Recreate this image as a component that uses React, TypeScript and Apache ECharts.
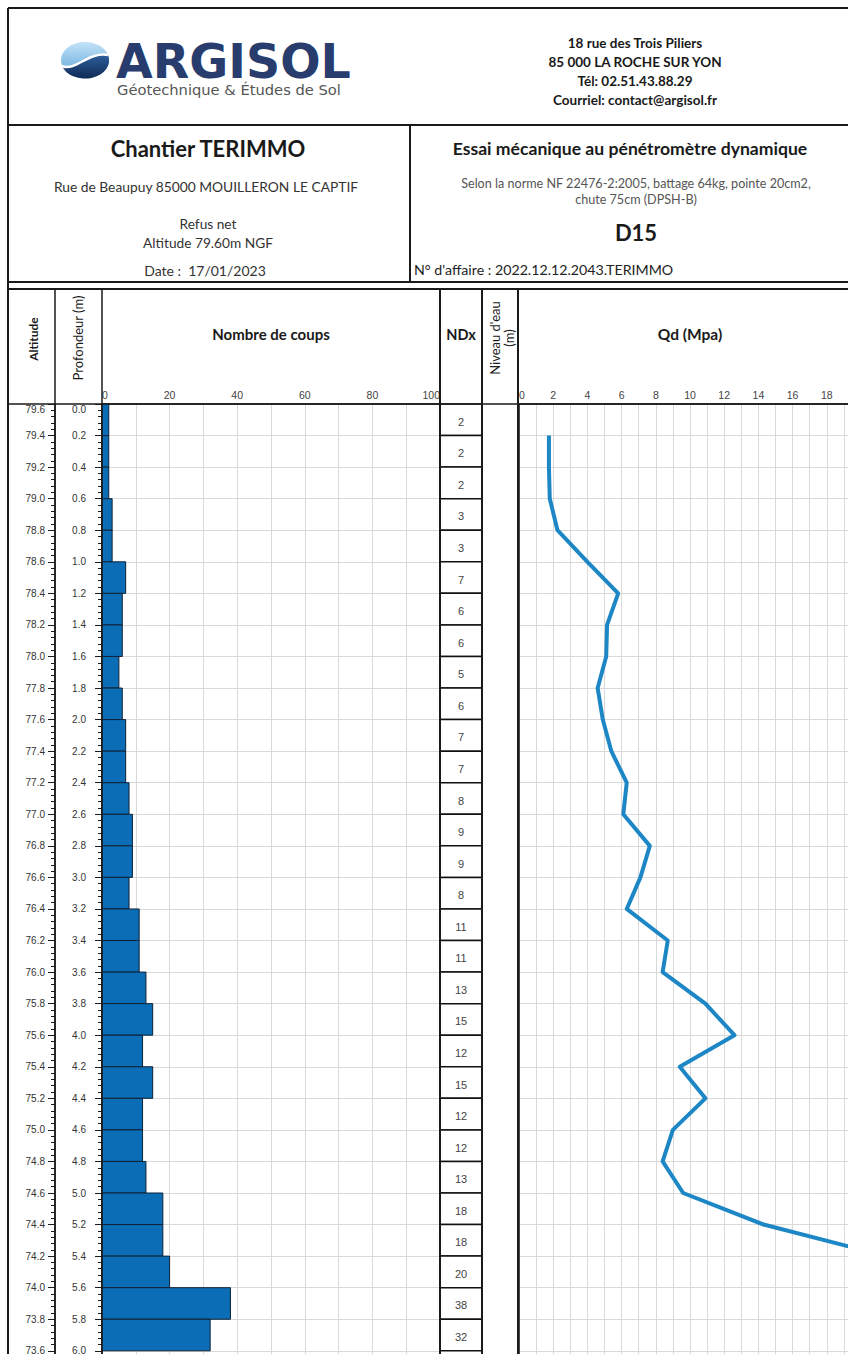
import React, { useEffect, useRef } from "react";
import * as echarts from "echarts";

// ---------- data ----------
const LAYER_TOP = [0, 0.2, 0.4, 0.6, 0.8, 1.0, 1.2, 1.4, 1.6, 1.8, 2.0, 2.2, 2.4, 2.6, 2.8, 3.0, 3.2, 3.4, 3.6, 3.8, 4.0, 4.2, 4.4, 4.6, 4.8, 5.0, 5.2, 5.4, 5.6, 5.8];
const LAYER_BOTTOM = [0.2, 0.4, 0.6, 0.8, 1.0, 1.2, 1.4, 1.6, 1.8, 2.0, 2.2, 2.4, 2.6, 2.8, 3.0, 3.2, 3.4, 3.6, 3.8, 4.0, 4.2, 4.4, 4.6, 4.8, 5.0, 5.2, 5.4, 5.6, 5.8, 6.0];
const NDX = [2, 2, 2, 3, 3, 7, 6, 6, 5, 6, 7, 7, 8, 9, 9, 8, 11, 11, 13, 15, 12, 15, 12, 12, 13, 18, 18, 20, 38, 32];
const QD_DEPTH = [0.2, 0.4, 0.6, 0.8, 1.0, 1.2, 1.4, 1.6, 1.8, 2.0, 2.2, 2.4, 2.6, 2.8, 3.0, 3.2, 3.4, 3.6, 3.8, 4.0, 4.2, 4.4, 4.6, 4.8, 5.0, 5.2, 5.4];
const QD = [1.75, 1.75, 1.8, 2.25, 4.0, 5.8, 5.15, 5.1, 4.6, 4.9, 5.4, 6.3, 6.1, 7.65, 7.1, 6.3, 8.7, 8.4, 10.9, 12.6, 9.4, 10.9, 9.0, 8.4, 9.6, 14.3, 21.5];
const SURFACE_ALT = 79.6;
const DEPTH_MAX = 6.4;
const COUPS_MAX = 100;
const QD_MAX = 20;

// ---------- layout ----------
const W = 848;
const HH = 1354;
const TOP = 404;
const PX_PER_M = 157.8;
const GH = DEPTH_MAX * PX_PER_M;
const LINE = "#1a1a1a";
const GRIDC = "#d9d9d9";
const HEAD_FONT = "Lato, 'Noto Sans', sans-serif";
const TICK_FONT = "'Liberation Sans', Arial, sans-serif";

echarts.graphic.registerShape(
  "logoDark",
  echarts.graphic.extendPath("M1,24 C14,30 28,9 47,13 A24,18 0 0 1 1,24 Z", {})
);
echarts.graphic.registerShape(
  "logoSwoosh",
  echarts.graphic.extendPath("M1,24 C14,30 28,9 47,13", {})
);

function ln(x1: number, y1: number, x2: number, y2: number, w = 2, c = LINE) {
  return { type: "line", silent: true, z: 50, shape: { x1, y1, x2, y2 }, style: { stroke: c, lineWidth: w } };
}
function tx(x: number, y: number, text: string, size: number, opts: any = {}) {
  return {
    type: "text",
    silent: true,
    z: 60,
    x,
    y,
    rotation: opts.rotation || 0,
    style: {
      text,
      fill: opts.color || "#1a1a1a",
      fontSize: size,
      fontWeight: opts.bold ? "bold" : "normal",
      fontFamily: opts.font || HEAD_FONT,
      align: opts.align || "center",
      verticalAlign: "middle",
      lineHeight: opts.lineHeight || undefined,
    },
  };
}

export default function App() {
  const ref = useRef<HTMLDivElement>(null);
  useEffect(() => {
    document.body.style.overflow = "hidden";
    const chart = echarts.init(ref.current!, null, { renderer: "svg" });
    const layers = NDX.map((v, i) => [LAYER_TOP[i], LAYER_BOTTOM[i], v]);
    const qdData = QD.map((v, i) => [v, QD_DEPTH[i]]);

    const depthAxisBase = {
      type: "value",
      inverse: true,
      min: 0,
      max: DEPTH_MAX,
      interval: 0.2,
    };

    const graphics: any[] = [
      // frame
      ln(8, 8, W, 8),
      ln(8, 8, 8, HH),
      ln(8, 125, W, 125),
      ln(410, 125, 410, 282),
      ln(8, 282, W, 282),
      ln(8, 289, W, 289),
      ln(8, TOP, W, TOP, 1.5),
      ln(55, 289, 55, HH, 1.5),
      ln(102, 289, 102, HH, 1.5),
      ln(440, 289, 440, HH, 2),
      ln(482, 289, 482, HH, 2),
      ln(518, 289, 518, HH, 2),
      // logo
      {
        type: "ellipse",
        silent: true,
        z: 40,
        shape: { cx: 85, cy: 60, rx: 24, ry: 18 },
        style: {
          fill: new echarts.graphic.LinearGradient(0, 0, 0, 1, [
            { offset: 0, color: "#c4e3f7" },
            { offset: 1, color: "#5aa3d9" },
          ]),
        },
      },
      {
        type: "logoDark",
        silent: true,
        z: 41,
        x: 61,
        y: 42,
        style: {
          fill: new echarts.graphic.LinearGradient(0, 0, 0, 1, [
            { offset: 0, color: "#2f5f9c" },
            { offset: 1, color: "#102a55" },
          ]),
        },
      },
      {
        type: "logoSwoosh",
        silent: true,
        z: 42,
        x: 61,
        y: 42,
        style: { fill: null, stroke: "#ffffff", lineWidth: 2.5 },
      },
      tx(116, 61, "ARGISOL", 47.5, { bold: true, color: "#283c6e", align: "left", font: "'DejaVu Sans', sans-serif", lineHeight: 32 }),
      tx(117, 89, "Géotechnique & Études de Sol", 14.7, { color: "#555", align: "left", font: "'DejaVu Sans', sans-serif", lineHeight: 12 }),
      // address
      tx(635, 43, "18 rue des Trois Piliers", 13.5, { bold: true }),
      tx(635, 62, "85 000 LA ROCHE SUR YON", 13.5, { bold: true }),
      tx(635, 81, "Tél: 02.51.43.88.29", 13.5, { bold: true }),
      tx(635, 100, "Courriel: contact@argisol.fr", 13.5, { bold: true }),
      // box 2 left
      tx(208, 148, "Chantier TERIMMO", 22, { bold: true }),
      tx(206, 186, "Rue de Beaupuy 85000 MOUILLERON LE CAPTIF", 13.8, { color: "#333" }),
      tx(208, 223, "Refus net", 13.7, { color: "#333", lineHeight: 16 }),
      tx(208, 242, "Altitude 79.60m NGF", 13.7, { color: "#333", lineHeight: 16 }),
      tx(205, 270, "Date :  17/01/2023", 14, { color: "#333" }),
      // box 2 right
      tx(630, 148, "Essai mécanique au pénétromètre dynamique", 17.6, { bold: true }),
      tx(636, 183, "Selon la norme NF 22476-2:2005, battage 64kg, pointe 20cm2,", 12.6, { color: "#555", lineHeight: 15 }),
      tx(636, 199, "chute 75cm (DPSH-B)", 12.6, { color: "#555", lineHeight: 15 }),
      tx(636, 232, "D15", 22, { bold: true }),
      tx(414, 269, "N° d'affaire : 2022.12.12.2043.TERIMMO", 14.2, { color: "#222", align: "left" }),
      // chart header
      tx(33, 339, "Altitude", 12, { bold: true, rotation: Math.PI / 2 }),
      tx(78, 338, "Profondeur (m)", 13, { rotation: Math.PI / 2 }),
      tx(271, 334, "Nombre de coups", 15, { bold: true }),
      tx(461, 334, "NDx", 14.5, { bold: true }),
      tx(495, 338, "Niveau d'eau", 13, { rotation: Math.PI / 2, lineHeight: 13 }),
      tx(509, 338, "(m)", 13, { rotation: Math.PI / 2, lineHeight: 13 }),
      tx(690, 334, "Qd (Mpa)", 15.5, { bold: true }),
    ];

    const xLabel = { fontSize: 10.5, color: "#444", margin: 4, fontFamily: TICK_FONT };
    const gridBase = { outerBoundsMode: "none", containLabel: false };

    chart.setOption({
      animation: false,
      backgroundColor: "#ffffff",
      grid: [
        { ...gridBase, left: 102, top: TOP, width: 338, height: GH },
        { ...gridBase, left: 440, top: TOP, width: 42, height: GH },
        { ...gridBase, left: 519, top: TOP, width: 342, height: GH },
      ],
      xAxis: [
        {
          gridIndex: 0,
          type: "value",
          position: "top",
          min: 0,
          max: COUPS_MAX,
          interval: 20,
          axisLine: { show: true, lineStyle: { color: LINE, width: 1.5 } },
          axisTick: { show: false },
          axisLabel: { ...xLabel, alignMinLabel: "left", alignMaxLabel: "right" },
          splitLine: { show: true, lineStyle: { color: GRIDC } },
          minorTick: { show: false, splitNumber: 2 },
          minorSplitLine: { show: true, lineStyle: { color: GRIDC } },
        },
        { gridIndex: 1, type: "value", min: 0, max: 1, show: false },
        {
          gridIndex: 2,
          type: "value",
          position: "top",
          min: 0,
          max: QD_MAX,
          interval: 2,
          axisLine: { show: true, lineStyle: { color: LINE, width: 1.5 } },
          axisTick: { show: false },
          axisLabel: { ...xLabel, alignMinLabel: "left" },
          splitLine: { show: true, lineStyle: { color: GRIDC } },
          minorTick: { show: false, splitNumber: 2 },
          minorSplitLine: { show: true, lineStyle: { color: GRIDC } },
        },
      ],
      yAxis: [
        {
          ...depthAxisBase,
          gridIndex: 0,
          position: "left",
          axisLine: { show: true, lineStyle: { color: LINE, width: 1.5 } },
          axisTick: { show: true, length: 7, lineStyle: { color: LINE } },
          minorTick: { show: true, splitNumber: 5, length: 4, lineStyle: { color: LINE } },
          axisLabel: {
            formatter: (v: number) => v.toFixed(1),
            margin: 16,
            fontSize: 10,
            color: "#333",
            fontFamily: TICK_FONT,
            verticalAlignMinLabel: "top",
          },
          splitLine: { show: true, lineStyle: { color: GRIDC } },
        },
        {
          gridIndex: 0,
          type: "value",
          position: "left",
          offset: 47,
          min: +(SURFACE_ALT - DEPTH_MAX).toFixed(1),
          max: SURFACE_ALT,
          interval: 0.2,
          axisLine: { show: true, lineStyle: { color: LINE, width: 1.5 } },
          axisTick: { show: true, length: 7, lineStyle: { color: LINE } },
          minorTick: { show: true, splitNumber: 5, length: 4, lineStyle: { color: LINE } },
          axisLabel: {
            formatter: (v: number) => v.toFixed(1),
            margin: 10,
            fontSize: 10,
            color: "#333",
            fontFamily: TICK_FONT,
            verticalAlignMaxLabel: "top",
          },
          splitLine: { show: false },
        },
        { ...depthAxisBase, gridIndex: 1, show: false },
        {
          ...depthAxisBase,
          gridIndex: 2,
          axisLine: { show: true, lineStyle: { color: LINE, width: 1.5 } },
          axisTick: { show: false },
          axisLabel: { show: false },
          splitLine: { show: true, lineStyle: { color: GRIDC } },
        },
      ],
      graphic: graphics,
      series: [
        {
          type: "custom",
          xAxisIndex: 0,
          yAxisIndex: 0,
          data: layers,
          encode: { x: 2, y: [0, 1] },
          renderItem: (_p: any, api: any) => {
            const a = api.coord([0, api.value(0)]);
            const b = api.coord([api.value(2), api.value(1)]);
            return {
              type: "rect",
              shape: { x: a[0], y: a[1], width: b[0] - a[0], height: b[1] - a[1] },
              style: { fill: "#0b6db5", stroke: "#0f2236", lineWidth: 1 },
            };
          },
        },
        {
          type: "custom",
          xAxisIndex: 1,
          yAxisIndex: 2,
          data: layers,
          encode: { y: [0, 1] },
          renderItem: (_p: any, api: any) => {
            const a = api.coord([0, api.value(0)]);
            const b = api.coord([1, api.value(1)]);
            return {
              type: "group",
              children: [
                {
                  type: "rect",
                  shape: { x: a[0], y: a[1], width: b[0] - a[0], height: b[1] - a[1] },
                  style: { fill: "#ffffff", stroke: "#111111", lineWidth: 1.5 },
                },
                {
                  type: "text",
                  style: {
                    text: String(api.value(2)),
                    x: (a[0] + b[0]) / 2,
                    y: (a[1] + b[1]) / 2 + 2,
                    align: "center",
                    verticalAlign: "middle",
                    fill: "#444",
                    fontSize: 11,
                    fontFamily: TICK_FONT,
                  },
                },
              ],
            };
          },
        },
        {
          type: "line",
          xAxisIndex: 2,
          yAxisIndex: 3,
          data: qdData,
          showSymbol: false,
          symbol: "none",
          clip: true,
          lineStyle: { color: "#1d87c6", width: 4, join: "round" },
        },
      ],
    });
    return () => chart.dispose();
  }, []);
  return (
    <div
      ref={ref}
      style={{ position: "fixed", left: 0, top: 0, width: W, height: HH, background: "#fff" }}
    />
  );
}
